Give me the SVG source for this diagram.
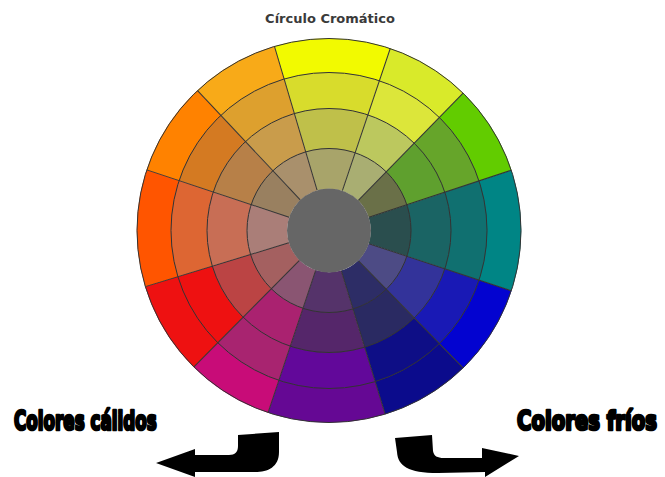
<svg xmlns="http://www.w3.org/2000/svg" width="665" height="477" viewBox="0 0 665 477">
<style>
.s{fill:none}
.r1{stroke-width:34.5}
.r2{stroke-width:36.5}
.r3{stroke-width:40.5}
.r4{stroke-width:40.5}
.ring{fill:none;stroke:#333;stroke-width:1}
.rad{stroke:#333;stroke-width:1}
.big{font-family:"Liberation Sans Narrow","DejaVu Sans Condensed","Liberation Sans",sans-serif;font-weight:bold;font-size:27px;fill:#000;stroke:#000;stroke-width:2.6;stroke-linejoin:round}
.title{font-family:"DejaVu Sans",sans-serif;font-weight:bold;font-size:13px;fill:#3a3a3a}
</style>
<rect width="665" height="477" fill="#fff"/>
<text class="title" x="330" y="23" text-anchor="middle">Círculo Cromático</text>
<g id="wheel" transform="translate(329 230.5)">
 <g transform="rotate(-90)">
  <g id="seg-amarillo">
   <circle class="s r1" r="175" pathLength="360" stroke="#F2FA00" stroke-dasharray="35.1 324.9" stroke-dashoffset="16.5"/>
   <circle class="s r2" r="140" pathLength="360" stroke="#D8DC2C" stroke-dasharray="35.1 324.9" stroke-dashoffset="16.5"/>
   <circle class="s r3" r="102" pathLength="360" stroke="#BFC04A" stroke-dasharray="35.1 324.9" stroke-dashoffset="16.5"/>
   <circle class="s r4" r="62" pathLength="360" stroke="#A8A46A" stroke-dasharray="35.1 324.9" stroke-dashoffset="16.5"/>
  </g>
  <g id="seg-amarillo-verde">
   <circle class="s r1" r="175" pathLength="360" stroke="#D9EA2A" stroke-dasharray="25.7 334.3" stroke-dashoffset="-18.6"/>
   <circle class="s r2" r="140" pathLength="360" stroke="#DCE63A" stroke-dasharray="25.7 334.3" stroke-dashoffset="-18.6"/>
   <circle class="s r3" r="102" pathLength="360" stroke="#BCC85E" stroke-dasharray="25.7 334.3" stroke-dashoffset="-18.6"/>
   <circle class="s r4" r="62" pathLength="360" stroke="#A9AE72" stroke-dasharray="25.7 334.3" stroke-dashoffset="-18.6"/>
  </g>
  <g id="seg-verde">
   <circle class="s r1" r="175" pathLength="360" stroke="#62CC00" stroke-dasharray="27.4 332.6" stroke-dashoffset="-44.3"/>
   <circle class="s r2" r="140" pathLength="360" stroke="#66A52A" stroke-dasharray="27.4 332.6" stroke-dashoffset="-44.3"/>
   <circle class="s r3" r="102" pathLength="360" stroke="#5FA02E" stroke-dasharray="27.4 332.6" stroke-dashoffset="-44.3"/>
   <circle class="s r4" r="62" pathLength="360" stroke="#6A7048" stroke-dasharray="27.4 332.6" stroke-dashoffset="-44.3"/>
  </g>
  <g id="seg-verde-azulado">
   <circle class="s r1" r="175" pathLength="360" stroke="#008585" stroke-dasharray="36.6 323.4" stroke-dashoffset="-71.7"/>
   <circle class="s r2" r="140" pathLength="360" stroke="#107070" stroke-dasharray="36.6 323.4" stroke-dashoffset="-71.7"/>
   <circle class="s r3" r="102" pathLength="360" stroke="#1A6464" stroke-dasharray="36.6 323.4" stroke-dashoffset="-71.7"/>
   <circle class="s r4" r="62" pathLength="360" stroke="#2A4E4E" stroke-dasharray="36.6 323.4" stroke-dashoffset="-71.7"/>
  </g>
  <g id="seg-azul">
   <circle class="s r1" r="175" pathLength="360" stroke="#0303D0" stroke-dasharray="27.4 332.6" stroke-dashoffset="-108.3"/>
   <circle class="s r2" r="140" pathLength="360" stroke="#1919B5" stroke-dasharray="27.4 332.6" stroke-dashoffset="-108.3"/>
   <circle class="s r3" r="102" pathLength="360" stroke="#33339A" stroke-dasharray="27.4 332.6" stroke-dashoffset="-108.3"/>
   <circle class="s r4" r="62" pathLength="360" stroke="#4D4B85" stroke-dasharray="27.4 332.6" stroke-dashoffset="-108.3"/>
  </g>
  <g id="seg-azul-oscuro">
   <circle class="s r1" r="175" pathLength="360" stroke="#0B0B8C" stroke-dasharray="27.3 332.7" stroke-dashoffset="-135.7"/>
   <circle class="s r2" r="140" pathLength="360" stroke="#0E0E86" stroke-dasharray="27.3 332.7" stroke-dashoffset="-135.7"/>
   <circle class="s r3" r="102" pathLength="360" stroke="#2A2A62" stroke-dasharray="27.3 332.7" stroke-dashoffset="-135.7"/>
   <circle class="s r4" r="62" pathLength="360" stroke="#2D2D66" stroke-dasharray="27.3 332.7" stroke-dashoffset="-135.7"/>
  </g>
  <g id="seg-violeta">
   <circle class="s r1" r="175" pathLength="360" stroke="#650894" stroke-dasharray="35.5 324.5" stroke-dashoffset="-163"/>
   <circle class="s r2" r="140" pathLength="360" stroke="#62089A" stroke-dasharray="35.5 324.5" stroke-dashoffset="-163"/>
   <circle class="s r3" r="102" pathLength="360" stroke="#55266A" stroke-dasharray="35.5 324.5" stroke-dashoffset="-163"/>
   <circle class="s r4" r="62" pathLength="360" stroke="#55336A" stroke-dasharray="35.5 324.5" stroke-dashoffset="-163"/>
  </g>
  <g id="seg-magenta">
   <circle class="s r1" r="175" pathLength="360" stroke="#C80C78" stroke-dasharray="26.2 333.8" stroke-dashoffset="-198.5"/>
   <circle class="s r2" r="140" pathLength="360" stroke="#A82470" stroke-dasharray="26.2 333.8" stroke-dashoffset="-198.5"/>
   <circle class="s r3" r="102" pathLength="360" stroke="#AA2270" stroke-dasharray="26.2 333.8" stroke-dashoffset="-198.5"/>
   <circle class="s r4" r="62" pathLength="360" stroke="#8A5572" stroke-dasharray="26.2 333.8" stroke-dashoffset="-198.5"/>
  </g>
  <g id="seg-rojo">
   <circle class="s r1" r="175" pathLength="360" stroke="#EE1111" stroke-dasharray="28.3 331.7" stroke-dashoffset="-224.7"/>
   <circle class="s r2" r="140" pathLength="360" stroke="#EE1111" stroke-dasharray="28.3 331.7" stroke-dashoffset="-224.7"/>
   <circle class="s r3" r="102" pathLength="360" stroke="#BB4444" stroke-dasharray="28.3 331.7" stroke-dashoffset="-224.7"/>
   <circle class="s r4" r="62" pathLength="360" stroke="#A46060" stroke-dasharray="28.3 331.7" stroke-dashoffset="-224.7"/>
  </g>
  <g id="seg-rojo-anaranjado">
   <circle class="s r1" r="175" pathLength="360" stroke="#FF5500" stroke-dasharray="35.4 324.6" stroke-dashoffset="-253"/>
   <circle class="s r2" r="140" pathLength="360" stroke="#DD6633" stroke-dasharray="35.4 324.6" stroke-dashoffset="-253"/>
   <circle class="s r3" r="102" pathLength="360" stroke="#C86E55" stroke-dasharray="35.4 324.6" stroke-dashoffset="-253"/>
   <circle class="s r4" r="62" pathLength="360" stroke="#AA7E78" stroke-dasharray="35.4 324.6" stroke-dashoffset="-253"/>
  </g>
  <g id="seg-naranja">
   <circle class="s r1" r="175" pathLength="360" stroke="#FF8200" stroke-dasharray="28.4 331.6" stroke-dashoffset="-288.4"/>
   <circle class="s r2" r="140" pathLength="360" stroke="#D47A22" stroke-dasharray="28.4 331.6" stroke-dashoffset="-288.4"/>
   <circle class="s r3" r="102" pathLength="360" stroke="#B78048" stroke-dasharray="28.4 331.6" stroke-dashoffset="-288.4"/>
   <circle class="s r4" r="62" pathLength="360" stroke="#998060" stroke-dasharray="28.4 331.6" stroke-dashoffset="-288.4"/>
  </g>
  <g id="seg-amarillo-anaranjado">
   <circle class="s r1" r="175" pathLength="360" stroke="#F8AA18" stroke-dasharray="26.7 333.3" stroke-dashoffset="-316.8"/>
   <circle class="s r2" r="140" pathLength="360" stroke="#DDA02E" stroke-dasharray="26.7 333.3" stroke-dashoffset="-316.8"/>
   <circle class="s r3" r="102" pathLength="360" stroke="#C99C4B" stroke-dasharray="26.7 333.3" stroke-dashoffset="-316.8"/>
   <circle class="s r4" r="62" pathLength="360" stroke="#A9906C" stroke-dasharray="26.7 333.3" stroke-dashoffset="-316.8"/>
  </g>
 </g>
 <g id="bordes">
  <line class="rad" y1="-42" y2="-192" transform="rotate(-16.5)"/>
  <line class="rad" y1="-42" y2="-192" transform="rotate(18.6)"/>
  <line class="rad" y1="-42" y2="-192" transform="rotate(44.3)"/>
  <line class="rad" y1="-42" y2="-192" transform="rotate(71.7)"/>
  <line class="rad" y1="-42" y2="-192" transform="rotate(108.3)"/>
  <line class="rad" y1="-42" y2="-192" transform="rotate(135.7)"/>
  <line class="rad" y1="-42" y2="-192" transform="rotate(163)"/>
  <line class="rad" y1="-42" y2="-192" transform="rotate(198.5)"/>
  <line class="rad" y1="-42" y2="-192" transform="rotate(224.7)"/>
  <line class="rad" y1="-42" y2="-192" transform="rotate(253)"/>
  <line class="rad" y1="-42" y2="-192" transform="rotate(288.4)"/>
  <line class="rad" y1="-42" y2="-192" transform="rotate(316.8)"/>
  <circle class="ring" r="82"/>
  <circle class="ring" r="122"/>
  <circle class="ring" r="158"/>
  <circle class="ring" r="192" stroke="#444" stroke-width="1.5"/>
 </g>
 <circle id="centro" r="42" fill="#666"/>
</g>
<text id="calidos" class="big" transform="translate(14 430) scale(0.7 1)" textLength="204" lengthAdjust="spacingAndGlyphs">Colores cálidos</text>
<text id="frios" class="big" transform="translate(517 430) scale(0.7 1)" textLength="200" lengthAdjust="spacingAndGlyphs">Colores fríos</text>
<g id="connectors" fill="#000">
 <path id="flecha-calidos" d="M238,435 L279,432 L279,452 C279,467 268,472 255,472 L195,472 L195,477 L156,463 L195,449 L195,455 L229,455 C235,455 238,452 238,446 Z"/>
 <path id="flecha-frios" d="M395,438 L432,435 L433,451 C434,456 437,458 444,458 L482,458 L482,448 L519,456 L485,477 L485,472 L438,473 C408,473 398,466 397,452 Z"/>
</g>
</svg>
